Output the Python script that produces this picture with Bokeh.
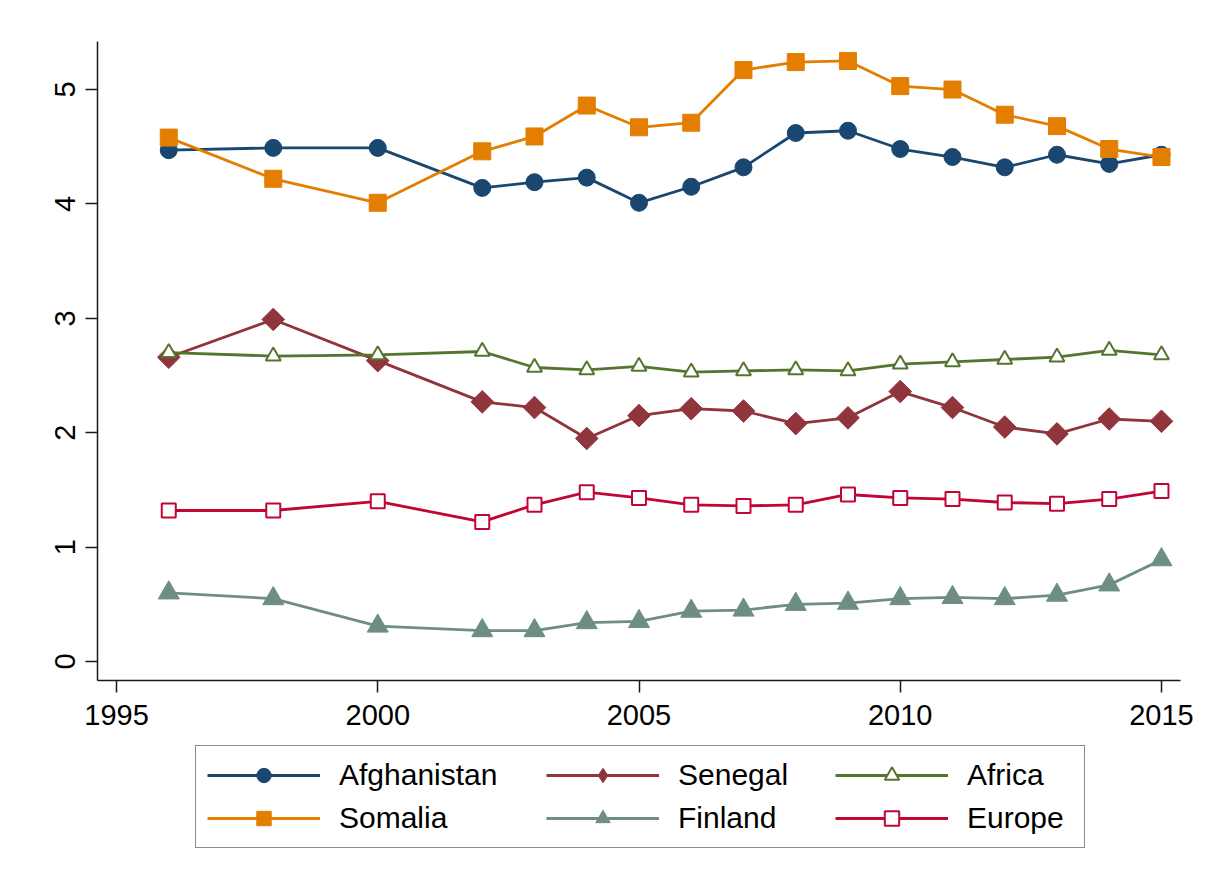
import math
from bokeh.plotting import figure
from bokeh.layouts import column
from bokeh.models import Legend, LegendItem, Range1d, FixedTicker
from bokeh.embed import file_html
from bokeh.resources import INLINE

years = [1996, 1998, 2000, 2002, 2003, 2004, 2005, 2006, 2007, 2008, 2009,
         2010, 2011, 2012, 2013, 2014, 2015]
afghanistan = [4.47, 4.49, 4.49, 4.14, 4.19, 4.23, 4.01, 4.15, 4.32, 4.62, 4.64,
               4.48, 4.41, 4.32, 4.43, 4.35, 4.43]
somalia = [4.58, 4.22, 4.01, 4.46, 4.59, 4.86, 4.67, 4.71, 5.17, 5.24, 5.25,
           5.03, 5.00, 4.78, 4.68, 4.48, 4.41]
senegal = [2.66, 2.99, 2.63, 2.27, 2.22, 1.95, 2.15, 2.21, 2.19, 2.08, 2.13,
           2.36, 2.22, 2.05, 1.99, 2.12, 2.10]
finland = [0.60, 0.55, 0.31, 0.27, 0.27, 0.34, 0.35, 0.44, 0.45, 0.50, 0.51,
           0.55, 0.56, 0.55, 0.58, 0.67, 0.89]
africa = [2.70, 2.67, 2.68, 2.71, 2.57, 2.55, 2.58, 2.53, 2.54, 2.55, 2.54,
          2.60, 2.62, 2.64, 2.66, 2.72, 2.68]
europe = [1.32, 1.32, 1.40, 1.22, 1.37, 1.48, 1.43, 1.37, 1.36, 1.37, 1.46,
          1.43, 1.42, 1.39, 1.38, 1.42, 1.49]

x_ticks = [1995, 2000, 2005, 2010, 2015]
y_ticks = [0, 1, 2, 3, 4, 5]

FONT = "Liberation Sans"
W = 1203

p = figure(width=W, height=738, output_backend="svg", toolbar_location=None,
           x_range=Range1d(1994.636, 2015.364), y_range=Range1d(-0.166, 5.42),
           min_border_left=97, min_border_right=23, min_border_top=41,
           min_border_bottom=58)
p.outline_line_color = None
p.grid.visible = False
p.background_fill_color = "white"
p.border_fill_color = "white"

p.xaxis.ticker = FixedTicker(ticks=x_ticks)
p.yaxis.ticker = FixedTicker(ticks=y_ticks)
for ax in (p.xaxis, p.yaxis):
    ax.minor_tick_line_color = None
    ax.major_tick_out = 12
    ax.major_tick_in = 0
    ax.axis_line_width = 1.5
    ax.axis_line_color = "#1a1a1a"
    ax.major_tick_line_width = 1.5
    ax.major_tick_line_color = "#1a1a1a"
    ax.major_label_text_font = FONT
    ax.major_label_text_font_size = "29px"
    ax.major_label_text_color = "black"
p.xaxis.major_label_standoff = 12
p.yaxis.major_label_standoff = 10
p.yaxis.major_label_orientation = "vertical"

# name, values, colour, marker, size, angle, filled, legend-key marker
series = [
    ("Afghanistan", afghanistan, "#1a476f", "circle", 17, 0, True, "circle"),
    ("Somalia", somalia, "#e37e00", "square", 17, 0, True, "square"),
    ("Senegal", senegal, "#90353b", "square", 16, math.pi / 4, True, "diamond"),
    ("Finland", finland, "#6e8e84", "triangle", 21, 0, True, "triangle"),
    ("Africa", africa, "#55752f", "triangle", 15, 0, False, "triangle"),
    ("Europe", europe, "#c10534", "square", 14, 0, False, "square"),
]

# legend panel as its own canvas below the chart
LH = 130
lp = figure(width=W, height=LH, output_backend="svg", toolbar_location=None,
            x_range=Range1d(0, W), y_range=Range1d(0, LH),
            x_axis_location=None, y_axis_location=None,
            min_border_left=0, min_border_right=0, min_border_top=0,
            min_border_bottom=0)
lp.outline_line_color = None
lp.grid.visible = False
lp.background_fill_color = "white"
lp.border_fill_color = "white"

items = []
for name, vals, color, marker, size, angle, filled, key_marker in series:
    style_line = dict(line_color=color, line_width=2.8)
    style_mark = dict(size=size, line_color=color,
                      line_width=2 if not filled else 1,
                      fill_color=color if filled else "white", fill_alpha=1.0)
    p.line(years, vals, **style_line)
    p.scatter(years, vals, marker=marker, angle=angle, **style_mark)
    # key glyphs for the legend canvas (kept outside its visible area)
    k1 = lp.line([-500, -400], [-500, -500], **style_line)
    k2 = lp.scatter([-450], [-500], marker=key_marker, **style_mark)
    items.append(LegendItem(label=name, renderers=[k1, k2]))

common = dict(orientation="vertical", glyph_width=113, glyph_height=36,
              label_height=32, label_standoff=19, spacing=7, padding=11,
              label_text_font=FONT, label_text_font_size="30px",
              label_text_color="black", margin=0)

leg1 = Legend(items=items[0:2], location=(98, 20), label_width=734,
              border_line_color="#1a1a1a", border_line_width=1.5,
              background_fill_color="white", background_fill_alpha=1.0, **common)
leg2 = Legend(items=items[2:4], location=(449, 32),
              border_line_color=None, background_fill_alpha=0.0, **common)
leg3 = Legend(items=items[4:6], location=(738, 32),
              border_line_color=None, background_fill_alpha=0.0, **common)
for lg in (leg1, leg2, leg3):
    lp.add_layout(lg, "center")

layout = column(p, lp, spacing=0)
open("out.html", "w").write(file_html(layout, INLINE))
